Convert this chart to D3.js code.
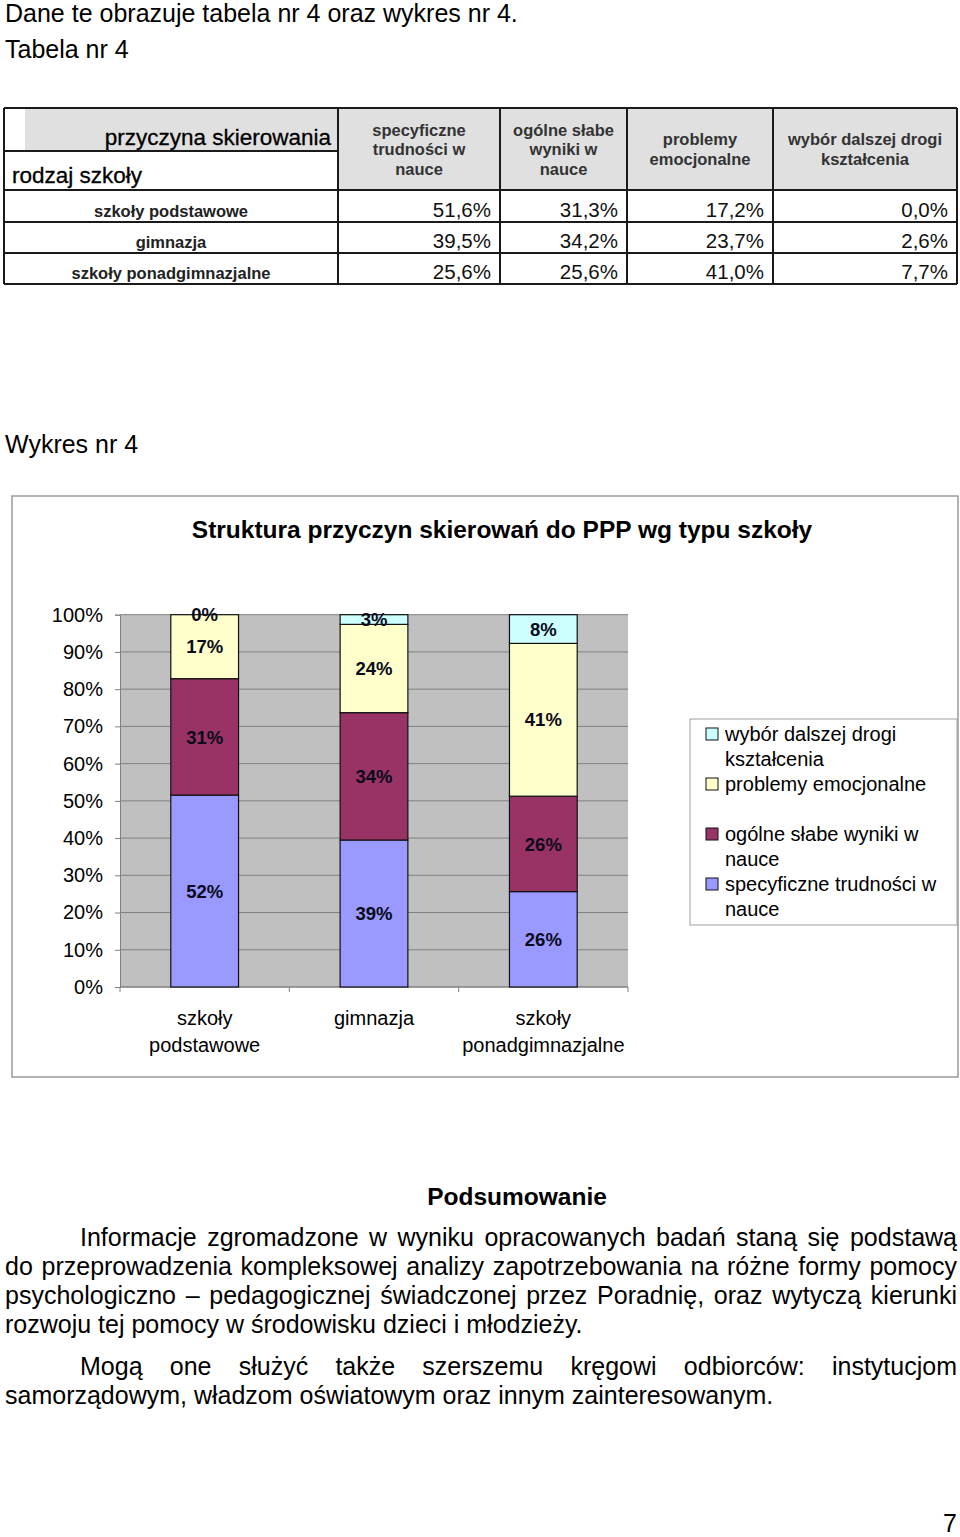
<!DOCTYPE html>
<html><head><meta charset="utf-8">
<script src="https://cdn.jsdelivr.net/npm/d3@7"></script>
<style>
body{margin:0;background:#fff}
svg text{font-family:"Liberation Sans",Arial,sans-serif}
</style>
</head><body>
<svg id="c" width="960" height="1537"></svg>
<script>
// ---------------- DATA ----------------
const categories = ["szkoły podstawowe", "gimnazja", "szkoły ponadgimnazjalne"];
const seriesNames = ["specyficzne trudności w nauce", "ogólne słabe wyniki w nauce", "problemy emocjonalne", "wybór dalszej drogi kształcenia"];
const specyficzne = [51.6, 39.47, 25.6];
const ogolne = [31.3, 34.2, 25.6];
const emocjonalne = [17.2, 23.7, 41.0];
const wybor = [0.0, 2.6, 7.7];
const yTicks = [0, 0.1, 0.2, 0.3, 0.4, 0.5, 0.6, 0.7, 0.8, 0.9, 1.0];
const tableHeaders = [["specyficzne", "trudności w", "nauce"], ["ogólne słabe", "wyniki w", "nauce"], ["problemy", "emocjonalne"], ["wybór dalszej drogi", "kształcenia"]];
const legendItems = [["wybór dalszej drogi", "kształcenia"], ["problemy emocjonalne"], ["ogólne słabe wyniki w", "nauce"], ["specyficzne trudności w", "nauce"]];
const chartTitle = "Struktura przyczyn skierowań do PPP wg typu szkoły";
const summaryTitle = "Podsumowanie";
const summaryLines = [
  {t: "Informacje zgromadzone w wyniku opracowanych badań staną się podstawą", indent: true, just: true},
  {t: "do przeprowadzenia kompleksowej analizy zapotrzebowania na różne formy pomocy", indent: false, just: true},
  {t: "psychologiczno – pedagogicznej świadczonej przez Poradnię, oraz wytyczą kierunki", indent: false, just: true},
  {t: "rozwoju tej pomocy w środowisku dzieci i młodzieży.", indent: false, just: false},
  {t: "Mogą one służyć także szerszemu kręgowi odbiorców: instytucjom", indent: true, just: true, gap: true},
  {t: "samorządowym, władzom oświatowym oraz innym zainteresowanym.", indent: false, just: false}
];

const colors = ["#9999FF", "#993366", "#FFFFCC", "#CCFFFF"];
const seriesData = [specyficzne, ogolne, emocjonalne, wybor];

const svg = d3.select("#c");
const F = "\"Liberation Sans\",Arial,sans-serif";

// ---------------- heading texts ----------------
svg.append("text").attr("x", 5).attr("y", 22).attr("font-size", 25).text("Dane te obrazuje tabela nr 4 oraz wykres nr 4.");
svg.append("text").attr("x", 5).attr("y", 58).attr("font-size", 25).text("Tabela nr 4");
svg.append("text").attr("x", 5).attr("y", 453).attr("font-size", 25).text("Wykres nr 4");

// ---------------- TABLE ----------------
const colX = [4, 338, 500, 627, 773, 957];
const rowY = [108, 190, 222, 253, 284];
const tg = svg.append("g");
const fmtPL = v => v.toFixed(1).replace(".", ",") + "%";
tg.append("rect").attr("x", 25).attr("y", rowY[0]).attr("width", colX[1] - 25).attr("height", 151 - rowY[0]).attr("fill", "#E0E0E0");
tableHeaders.forEach((h, i) => {
  tg.append("rect").attr("x", colX[i + 1]).attr("y", rowY[0]).attr("width", colX[i + 2] - colX[i + 1]).attr("height", rowY[1] - rowY[0]).attr("fill", "#E0E0E0");
  const cx = (colX[i + 1] + colX[i + 2]) / 2;
  const step = 19.5;
  const mid = (rowY[0] + rowY[1]) / 2;
  h.forEach((ln, j) => {
    tg.append("text").attr("x", cx).attr("y", mid + (j - (h.length - 1) / 2) * step + 6)
      .attr("text-anchor", "middle").attr("font-size", 16.5).attr("font-weight", "bold").attr("fill", "#333").text(ln);
  });
});
tg.append("text").attr("x", 331).attr("y", 145).attr("text-anchor", "end").attr("font-size", 22.5).attr("fill", "#000")
  .attr("stroke", "#000").attr("stroke-width", 0.3).text("przyczyna skierowania");
tg.append("text").attr("x", 12).attr("y", 183).attr("font-size", 22.5).attr("fill", "#000")
  .attr("stroke", "#000").attr("stroke-width", 0.3).text("rodzaj szkoły");
categories.forEach((c, r) => {
  const yb = rowY[r + 2] - 5;
  tg.append("text").attr("x", (colX[0] + colX[1]) / 2).attr("y", yb).attr("text-anchor", "middle")
    .attr("font-size", 16.5).attr("font-weight", "bold").attr("fill", "#222").text(c);
  seriesData.forEach((s, k) => {
    tg.append("text").attr("x", colX[k + 2] - 9).attr("y", yb).attr("text-anchor", "end")
      .attr("font-size", 20.5).attr("fill", "#111").text(fmtPL(s[r]));
  });
});
const ls = "#1a1a1a";
rowY.forEach(yv => {
  tg.append("line").attr("x1", colX[0]).attr("x2", colX[5]).attr("y1", yv).attr("y2", yv).attr("stroke", ls).attr("stroke-width", 2);
});
tg.append("line").attr("x1", colX[0]).attr("x2", colX[1]).attr("y1", 151).attr("y2", 151).attr("stroke", ls).attr("stroke-width", 2);
colX.forEach(xv => {
  tg.append("line").attr("x1", xv).attr("x2", xv).attr("y1", rowY[0]).attr("y2", rowY[4]).attr("stroke", ls).attr("stroke-width", 2);
});

// ---------------- CHART ----------------
svg.append("rect").attr("x", 12).attr("y", 496).attr("width", 946).attr("height", 581)
  .attr("fill", "#fff").attr("stroke", "#9a9a9a").attr("stroke-width", 1.5);
svg.append("text").attr("x", 502).attr("y", 538).attr("text-anchor", "middle").attr("font-size", 24.5)
  .attr("font-weight", "bold").text(chartTitle);

const plot = {l: 120, r: 628, t: 614.7, b: 987};
const x = d3.scaleBand().domain(categories).range([plot.l, plot.r]).paddingInner(0.6).paddingOuter(0.3);
const y = d3.scaleLinear().domain([0, 1]).range([plot.b, plot.t]);

svg.append("rect").attr("x", plot.l).attr("y", plot.t).attr("width", plot.r - plot.l).attr("height", plot.b - plot.t).attr("fill", "#C0C0C0");
svg.append("g").selectAll("line").data(yTicks).join("line")
  .attr("x1", plot.l).attr("x2", plot.r).attr("y1", d => y(d)).attr("y2", d => y(d))
  .attr("stroke", "#808080").attr("stroke-width", 1);

const yAxis = svg.append("g").attr("transform", `translate(${plot.l},0)`)
  .call(d3.axisLeft(y).tickValues(yTicks).tickFormat(d3.format(".0%")).tickSize(5).tickPadding(12));
yAxis.attr("font-family", F).attr("font-size", 20);
yAxis.select(".domain").attr("stroke", "#808080");
yAxis.selectAll(".tick line").attr("stroke", "#808080");
yAxis.selectAll(".tick text").attr("fill", "#000");

const xg = svg.append("g");
xg.append("line").attr("x1", plot.l).attr("x2", plot.r).attr("y1", plot.b).attr("y2", plot.b).attr("stroke", "#808080");
const bounds = d3.range(categories.length + 1).map(i => x.range()[0] + i * x.step());
xg.selectAll("line.t").data(bounds).join("line").attr("class", "t")
  .attr("x1", d => d).attr("x2", d => d).attr("y1", plot.b).attr("y2", plot.b + 5).attr("stroke", "#808080");
categories.forEach(c => {
  const parts = c.indexOf(" ") > 0 ? [c.slice(0, c.indexOf(" ")), c.slice(c.indexOf(" ") + 1)] : [c];
  parts.forEach((p, j) => {
    xg.append("text").attr("x", x(c) + x.bandwidth() / 2).attr("y", 1025 + j * 27)
      .attr("text-anchor", "middle").attr("font-size", 20).text(p);
  });
});

const rows = categories.map((c, i) => {
  const o = {cat: c};
  seriesNames.forEach((s, k) => o[s] = seriesData[k][i]);
  return o;
});
const stack = d3.stack().keys(seriesNames).offset(d3.stackOffsetExpand)(rows);
const bars = svg.append("g");
stack.forEach((layer, k) => {
  bars.append("g").selectAll("rect").data(layer).join("rect")
    .attr("x", d => x(d.data.cat)).attr("width", x.bandwidth())
    .attr("y", d => y(d[1])).attr("height", d => y(d[0]) - y(d[1]))
    .attr("fill", colors[k]).attr("stroke", "#111").attr("stroke-width", 1.2);
});
stack.forEach((layer, k) => {
  bars.append("g").selectAll("text").data(layer).join("text")
    .attr("x", d => x(d.data.cat) + x.bandwidth() / 2)
    .attr("y", d => (y(d[0]) + y(d[1])) / 2).attr("dy", "0.36em")
    .attr("text-anchor", "middle").attr("font-size", 18.5).attr("font-weight", "bold").attr("fill", "#0a0a1a")
    .text(d => Math.round(d.data[layer.key]) + "%");
});

const lg = svg.append("g");
lg.append("rect").attr("x", 690).attr("y", 719).attr("width", 267).attr("height", 206)
  .attr("fill", "#fff").attr("stroke", "#a0a0a0").attr("stroke-width", 1);
const legendColors = [colors[3], colors[2], colors[1], colors[0]];
const slots = [0, 2, 4, 6];
legendItems.forEach((lines, i) => {
  const by = 741 + slots[i] * 25;
  lg.append("rect").attr("x", 706).attr("y", by - 13).attr("width", 12).attr("height", 12)
    .attr("fill", legendColors[i]).attr("stroke", "#111").attr("stroke-width", 1);
  lines.forEach((ln, j) => {
    lg.append("text").attr("x", 725).attr("y", by + j * 25).attr("font-size", 20).text(ln);
  });
});

// ---------------- SUMMARY ----------------
svg.append("text").attr("x", 517).attr("y", 1205).attr("text-anchor", "middle").attr("font-size", 24.5)
  .attr("font-weight", "bold").text(summaryTitle);
function justify(str, x0, x1, yb, fs) {
  const words = str.split(" ");
  const t = svg.append("text").attr("y", yb).attr("font-size", fs);
  const spans = words.map(w => t.append("tspan").text(w));
  const widths = spans.map(s => s.node().getComputedTextLength());
  const gap = (x1 - x0 - d3.sum(widths)) / (words.length - 1);
  let cx = x0;
  spans.forEach((s, i) => { s.attr("x", cx); cx += widths[i] + gap; });
}
let yb = 1246;
summaryLines.forEach(ln => {
  if (ln.gap) yb += 13;
  const x0 = ln.indent ? 80 : 5;
  if (ln.just) justify(ln.t, x0, 957, yb, 25);
  else svg.append("text").attr("x", x0).attr("y", yb).attr("font-size", 25).text(ln.t);
  yb += 29;
});

svg.append("text").attr("x", 957).attr("y", 1532).attr("text-anchor", "end").attr("font-size", 25)
  .attr("font-family", "\"Liberation Serif\",serif").text("7");
</script>
</body></html>
